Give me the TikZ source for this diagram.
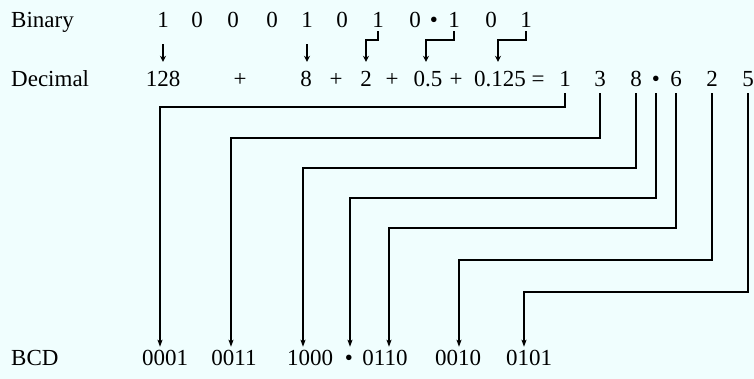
\documentclass[tikz,border=0pt]{standalone}
\usepackage{fontspec}
\setmainfont{Liberation Serif}
\usetikzlibrary{arrows.meta}
\definecolor{paper}{RGB}{240,254,254}
\begin{document}
\begin{tikzpicture}[x=1pt,y=-1pt,
  txt/.style={anchor=base,inner sep=0pt,font=\fontsize{23}{23}\selectfont},
  dig/.style={txt,text height=16pt,text depth=0pt},
  lbl/.style={txt,anchor=base west},
  thin arrow/.style={line width=1.1pt,-{Stealth[length=6pt,width=6pt,inset=2pt]}},
  bracket/.style={line width=1.3pt,-{Stealth[length=6pt,width=6pt,inset=2pt]}},
  link/.style={line width=1.7pt,-{Stealth[length=7pt,width=5pt,inset=1.5pt]}}
]
\fill[paper] (0,0) rectangle (754,379);
\useasboundingbox (0,0) rectangle (754,379);

% row labels
\node[lbl] (lb) at (11,28) {Binary};
\node[lbl] (ld) at (11,87) {Decimal};
\node[lbl] (lc) at (11,365) {BCD};

% binary digits
\foreach \n/\x/\t in {b1/163/1, b2/197/0, b3/233/0, b4/272/0, b5/307/1, b6/342/0,
                      b7/378/1, b8/415/0, bp/434/\textbullet, b9/454/1, b10/491/0, b11/526/1}
  \node[dig] (\n) at (\x,28) {\t};

% decimal sum
\foreach \n/\x/\t in {d1/163/128, p1/240/+, d2/306/8, p2/336/+, d3/366/2, p3/392/+,
                      d4/428/0.5, p4/456/+, d5/500/0.125, eq/538/=,
                      r1/565/1, r2/600/3, r3/636/8, rp/656/\textbullet, r4/676/6, r5/712/2, r6/748/5}
  \node[dig] (\n) at (\x,87) {\t};

% BCD groups
\foreach \n/\x/\t in {g1/165/0001, g2/234/0011, g3/310/1000, gp/349/\textbullet,
                      g4/385/0110, g5/458/0010, g6/529/0101}
  \node[dig] (\n) at (\x,365) {\t};

% levels of the horizontal runs
\coordinate (hb) at (0,40);
\foreach \i/\y in {1/107, 2/138, 3/168, 4/198, 5/228, 6/260, 7/292}
  \coordinate (h\i) at (0,\y);

% binary weights to decimal terms
\draw[thin arrow, shorten <=16pt, shorten >=9pt] (b1.south) -- (d1.north);
\draw[thin arrow, shorten <=16pt, shorten >=9pt] (b5.south) -- (b5.south |- d2.north);
\draw[bracket, shorten <=3pt, shorten >=9pt] (b7.south) -- (b7.south |- hb) -| (d3.north);
\draw[bracket, shorten <=3pt, shorten >=9pt] (b9.south) -- (b9.south |- hb) -| ([xshift=-2pt]d4.north);
\draw[bracket, shorten <=3pt, shorten >=9pt] (b11.south) -- (b11.south |- hb) -| ([xshift=-2pt]d5.north);

% decimal digits to BCD groups
\draw[link, shorten <=6pt, shorten >=2pt] (r1.south) -- (r1.south |- h1) -| ([xshift=-5pt]g1.north);
\draw[link, shorten <=6pt, shorten >=2pt] (r2.south) -- (r2.south |- h2) -| ([xshift=-3pt]g2.north);
\draw[link, shorten <=6pt, shorten >=2pt] (r3.south) -- (r3.south |- h3) -| ([xshift=-7pt]g3.north);
\draw[link, shorten <=6pt, shorten >=2pt] (rp.south) -- (rp.south |- h4) -| ([xshift=1pt]gp.north);
\draw[link, shorten <=6pt, shorten >=2pt] (r4.south) -- (r4.south |- h5) -| ([xshift=4pt]g4.north);
\draw[link, shorten <=6pt, shorten >=2pt] (r5.south) -- (r5.south |- h6) -| ([xshift=1pt]g5.north);
\draw[link, shorten <=6pt, shorten >=2pt] (r6.south) -- (r6.south |- h7) -| ([xshift=-5pt]g6.north);
\end{tikzpicture}
\end{document}
